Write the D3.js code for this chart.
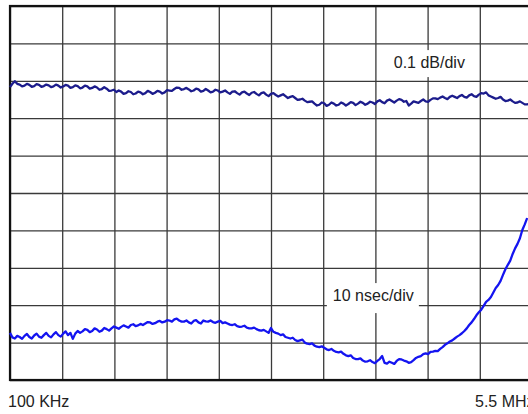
<!DOCTYPE html>
<html>
<head>
<meta charset="utf-8">
<script src="https://cdn.jsdelivr.net/npm/d3@7"></script>
<style>
html,body{margin:0;padding:0;background:#fff;}
svg{display:block;}
text{font-family:Arial,"Liberation Sans",Helvetica,sans-serif;}
</style>
</head>
<body>
<svg id="chart" width="528" height="414"></svg>
<script>
// Frequency sweep: 0.1 MHz to 5.5 MHz, one sample every 0.025 MHz
const sweepStart = 0.1, sweepStep = 0.025;

// Gain flatness trace (dB), 0.1 dB/div
const gainDb = [
-0.017,-0.008,-0.001,-0.008,-0.010,-0.015,-0.013,-0.008,-0.011,-0.016,
-0.014,-0.009,-0.011,-0.016,-0.014,-0.010,-0.012,-0.017,-0.015,-0.010,
-0.013,-0.018,-0.015,-0.011,-0.013,-0.019,-0.017,-0.012,-0.014,-0.020,
-0.018,-0.013,-0.015,-0.021,-0.019,-0.015,-0.018,-0.024,-0.022,-0.017,
-0.021,-0.027,-0.026,-0.024,-0.030,-0.026,-0.029,-0.035,-0.033,-0.028,
-0.030,-0.036,-0.034,-0.029,-0.031,-0.036,-0.033,-0.027,-0.030,-0.035,
-0.032,-0.027,-0.029,-0.034,-0.031,-0.025,-0.026,-0.027,-0.022,-0.018,
-0.019,-0.024,-0.022,-0.019,-0.023,-0.028,-0.026,-0.021,-0.023,-0.029,
-0.027,-0.022,-0.026,-0.031,-0.029,-0.024,-0.026,-0.031,-0.029,-0.026,
-0.031,-0.035,-0.029,-0.028,-0.033,-0.037,-0.031,-0.029,-0.034,-0.038,
-0.032,-0.030,-0.035,-0.039,-0.033,-0.031,-0.037,-0.041,-0.035,-0.033,
-0.038,-0.042,-0.039,-0.036,-0.041,-0.046,-0.043,-0.041,-0.046,-0.051,
-0.050,-0.048,-0.053,-0.057,-0.056,-0.055,-0.061,-0.066,-0.064,-0.058,
-0.060,-0.067,-0.064,-0.058,-0.061,-0.066,-0.064,-0.058,-0.061,-0.066,
-0.062,-0.057,-0.059,-0.065,-0.061,-0.056,-0.059,-0.064,-0.061,-0.056,
-0.058,-0.062,-0.055,-0.052,-0.057,-0.060,-0.053,-0.050,-0.054,-0.058,
-0.053,-0.049,-0.051,-0.056,-0.054,-0.066,-0.061,-0.055,-0.057,-0.059,
-0.054,-0.050,-0.055,-0.056,-0.051,-0.047,-0.047,-0.049,-0.045,-0.042,
-0.046,-0.049,-0.043,-0.040,-0.043,-0.046,-0.041,-0.038,-0.043,-0.045,
-0.039,-0.036,-0.041,-0.043,-0.037,-0.033,-0.034,-0.031,-0.039,-0.042,
-0.045,-0.048,-0.046,-0.043,-0.050,-0.054,-0.053,-0.050,-0.055,-0.059,
-0.058,-0.055,-0.059,-0.063,-0.063,-0.061,-0.066
];

// Group delay trace (nsec), 10 nsec/div
const delayNs = [
12.6,11.4,11.1,11.8,11.5,11.0,11.8,12.3,11.5,11.1,
11.9,12.4,11.6,11.3,12.0,12.6,11.8,11.4,12.2,12.8,
12.0,11.6,12.4,13.0,12.0,12.6,11.0,12.4,13.1,12.6,
13.0,13.6,13.4,12.8,13.1,13.8,13.5,12.9,13.2,13.9,
13.6,13.2,13.8,14.3,14.0,13.7,14.2,14.6,14.3,14.0,
14.7,14.9,14.4,14.6,15.0,14.7,15.1,15.5,15.4,15.0,
15.2,15.6,15.8,15.4,15.6,16.0,15.9,15.6,16.2,16.4,
15.9,15.6,15.6,15.9,15.4,15.1,15.8,16.0,15.4,15.1,
15.9,15.7,15.6,15.9,15.5,15.3,15.6,15.8,15.2,15.4,
15.1,14.8,14.7,14.9,14.4,14.2,14.3,14.5,14.0,13.8,
13.8,14.0,13.6,13.3,13.2,13.4,13.0,12.6,13.9,12.9,
12.6,12.4,12.0,12.2,11.5,11.3,11.1,11.3,10.7,10.4,
10.6,10.8,10.0,9.7,9.6,9.8,9.2,8.9,8.8,9.0,
8.6,8.2,8.0,8.3,7.8,7.5,7.4,7.6,7.0,6.6,
6.4,6.6,5.9,5.6,5.6,5.8,5.2,4.9,5.0,5.3,
4.8,4.5,5.1,5.6,6.4,4.6,4.4,4.9,4.6,4.3,
5.1,5.6,5.5,5.2,5.0,4.6,4.8,5.3,5.9,6.2,
6.4,6.9,7.1,6.9,7.5,7.6,7.8,7.7,8.3,8.8,
9.4,9.8,10.3,10.6,11.1,11.6,12.0,12.5,13.1,13.8,
14.7,15.4,16.3,17.3,18.1,18.8,19.8,20.9,21.4,22.2,
23.4,24.6,25.4,26.5,28.1,29.6,30.8,31.9,33.7,35.2,
36.4,37.9,40.1,41.6,43.3
];

// Grid (10 divisions each way)
const freqGrid = [0.1,0.64,1.18,1.72,2.26,2.8,3.34,3.88,4.42,4.96,5.5];
const dbGrid = [-0.8,-0.7,-0.6,-0.5,-0.4,-0.3,-0.2,-0.1,0,0.1,0.2];

// Text
const xTickLabels = [{f:0.1, label:"100 KHz"},{f:5.5, label:"5.5 MHz"}];
const traceLabels = [
  {text:"0.1 dB/div", f:4.07, db:0.034},
  {text:"10 nsec/div", f:3.44, ns:21.1}
];

const svg = d3.select("#chart");
const L = 10, R = 532, T = 6, B = 380;

const x = d3.scaleLinear().domain([0.1, 5.5]).range([L, R]);
const yDb = d3.scaleLinear().domain([-0.8, 0.2]).range([B, T]);
const yNs = d3.scaleLinear().domain([0, 100]).range([B, T]);

// grid lines via axes
svg.append("g")
  .attr("transform", `translate(0,${B})`)
  .call(d3.axisBottom(x).tickValues(freqGrid).tickSize(-(B - T)).tickFormat(""))
  .call(g => g.select(".domain").remove())
  .call(g => g.selectAll("line").attr("stroke", "#3a3a3a").attr("stroke-width", 1.3));

svg.append("g")
  .attr("transform", `translate(${L},0)`)
  .call(d3.axisLeft(yDb).tickValues(dbGrid).tickSize(-(R - L)).tickFormat(""))
  .call(g => g.select(".domain").remove())
  .call(g => g.selectAll("line").attr("stroke", "#3a3a3a").attr("stroke-width", 1.3));

// frame
svg.append("rect")
  .attr("x", L).attr("y", T).attr("width", R - L).attr("height", B - T)
  .attr("fill", "none").attr("stroke", "#111").attr("stroke-width", 2.2);

// label boxes (white background hiding the grid)
svg.append("rect")
  .attr("x", x(traceLabels[0].f) - 6).attr("y", yDb(traceLabels[0].db) - 18)
  .attr("width", 82).attr("height", 27).attr("fill", "#fff");
svg.append("rect")
  .attr("x", x(traceLabels[1].f) - 6).attr("y", yNs(traceLabels[1].ns) - 18)
  .attr("width", 92).attr("height", 30).attr("fill", "#fff");

const gainPts = gainDb.map((v, i) => [sweepStart + i * sweepStep, v]);
const delayPts = delayNs.map((v, i) => [sweepStart + i * sweepStep, v]);

svg.append("path")
  .datum(gainPts)
  .attr("fill", "none")
  .attr("stroke", "#1c1c8c")
  .attr("stroke-width", 2.3)
  .attr("stroke-linejoin", "round")
  .attr("d", d3.line().x(d => x(d[0])).y(d => yDb(d[1])));

svg.append("path")
  .datum(delayPts)
  .attr("fill", "none")
  .attr("stroke", "#1414f0")
  .attr("stroke-width", 2.3)
  .attr("stroke-linejoin", "round")
  .attr("d", d3.line().x(d => x(d[0])).y(d => yNs(d[1])));

// trace labels
svg.append("text")
  .attr("x", x(traceLabels[0].f)).attr("y", yDb(traceLabels[0].db))
  .attr("font-size", 16).attr("fill", "#222")
  .text(traceLabels[0].text);
svg.append("text")
  .attr("x", x(traceLabels[1].f)).attr("y", yNs(traceLabels[1].ns))
  .attr("font-size", 16).attr("fill", "#222")
  .text(traceLabels[1].text);

// x-axis end labels
svg.append("text")
  .attr("x", x(xTickLabels[0].f) - 2).attr("y", 407)
  .attr("font-size", 16).attr("fill", "#222")
  .text(xTickLabels[0].label);
svg.append("text")
  .attr("x", x(xTickLabels[1].f) - 57).attr("y", 407)
  .attr("font-size", 16).attr("fill", "#222")
  .text(xTickLabels[1].label);
</script>
</body>
</html>
